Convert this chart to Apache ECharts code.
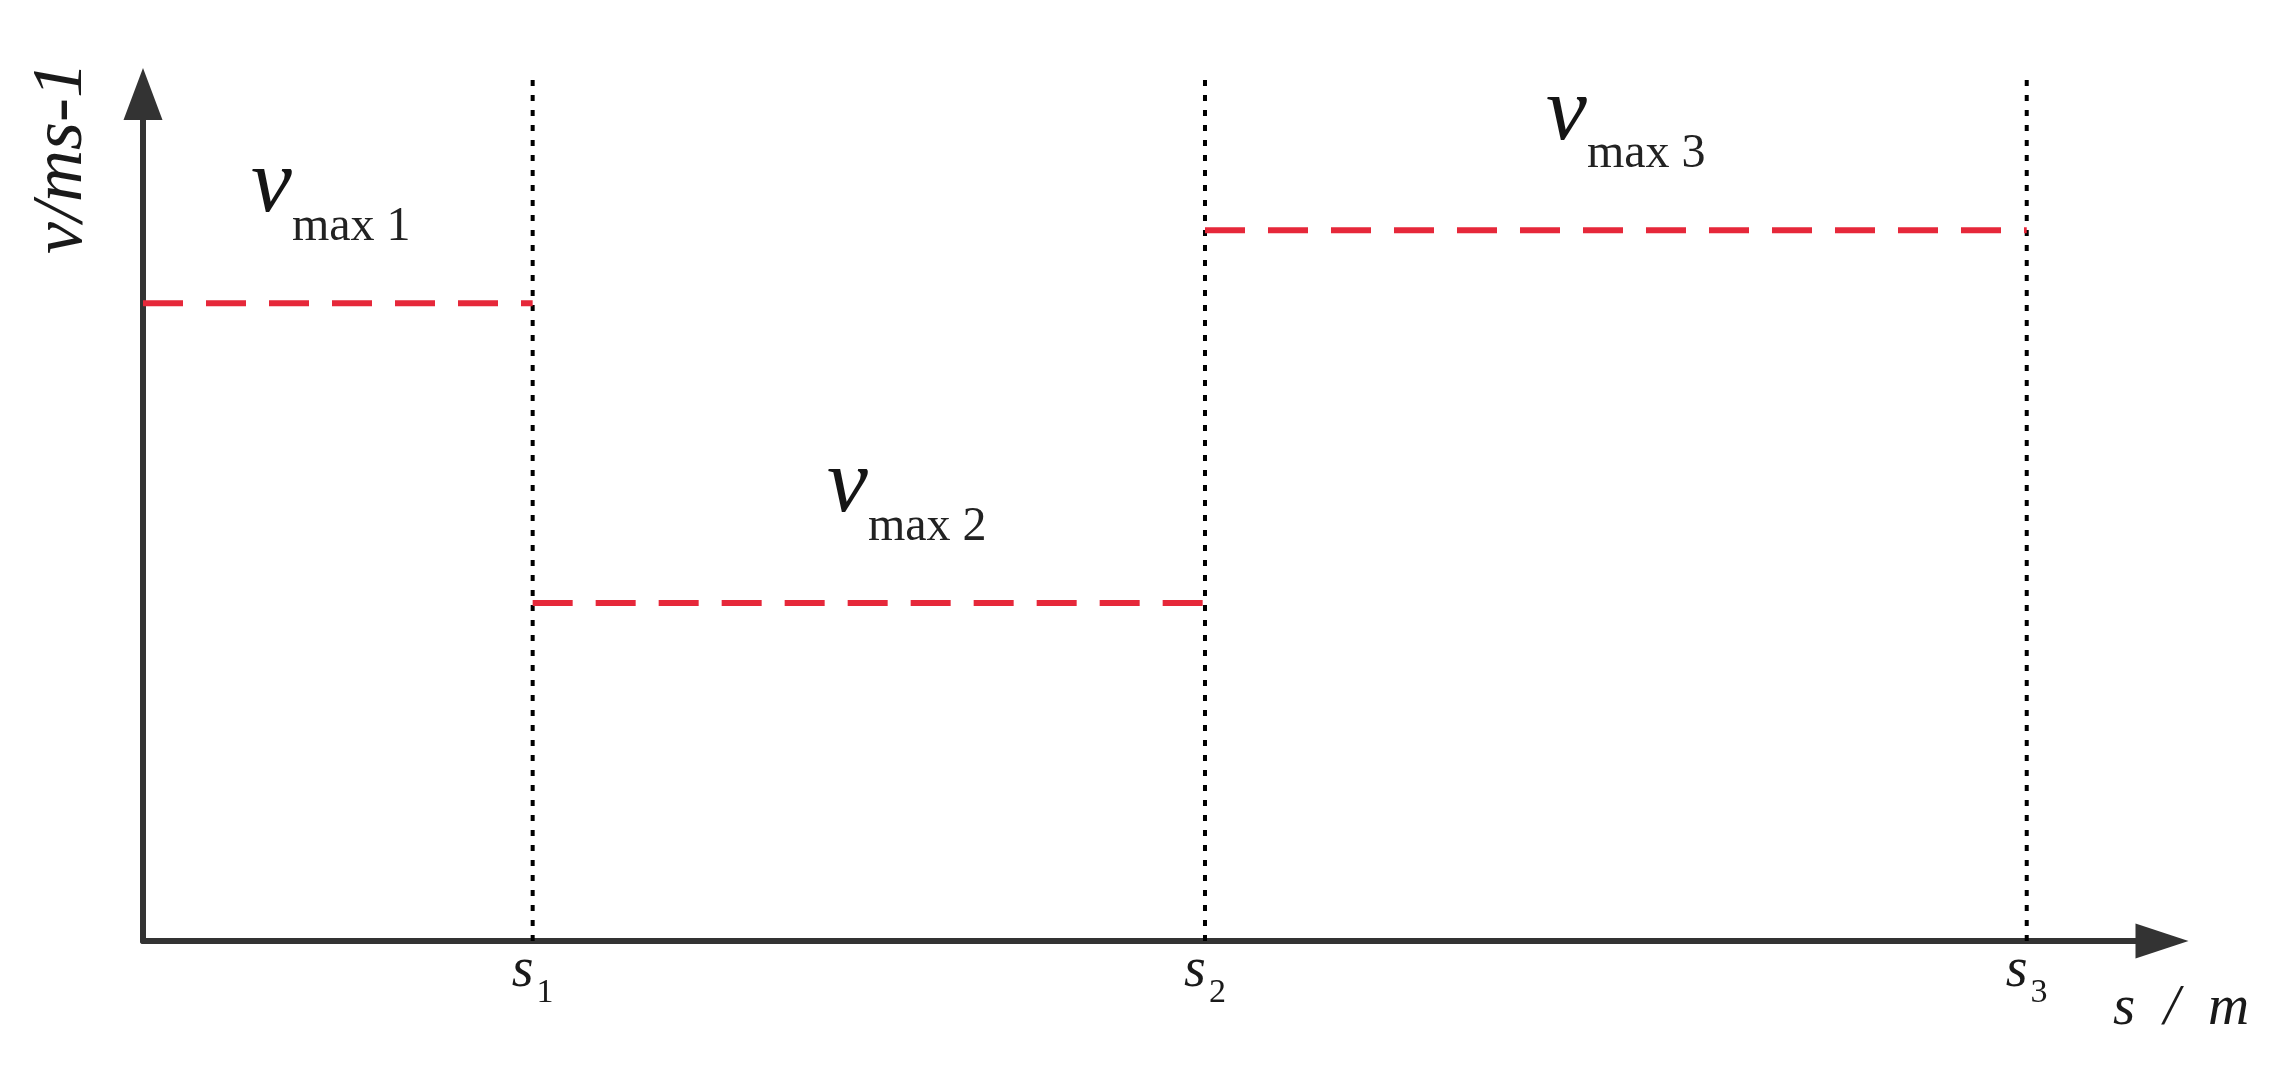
<!DOCTYPE html>
<html>
<head>
<meta charset="utf-8">
<script src="https://cdn.jsdelivr.net/npm/echarts@6/dist/echarts.min.js"></script>
<style>
  html, body { margin: 0; padding: 0; background: #fff; }
  #chart { width: 2276px; height: 1074px; }
</style>
</head>
<body>
<div id="chart"></div>
<script>
  // section boundaries s1..s3 (arbitrary units, axis runs 0..100)
  const sPos = [19.3, 52.6, 93.3]
  const sLabels = ['1', '2', '3']
  // speed limit of each section (axis runs 0..100)
  const segStart = [0, 19.3, 52.6]
  const vMax = [75.3, 39.9, 83.9]
  const vLabels = ['max 1', 'max 2', 'max 3']
  const labelShift = [-7, 38, 10]
  const boundTop = 102

  const serif = 'Liberation Serif'
  const red = '#e6283a'

  const myChart = echarts.init(document.getElementById('chart'))

  const series = []
  vMax.forEach(function (v, i) {
    series.push({
      type: 'line',
      data: [[segStart[i], v], [sPos[i], v]],
      symbol: 'none',
      silent: true,
      z: 3,
      lineStyle: { color: red, width: 6, type: [40, 23] },
      markPoint: {
        symbol: 'circle',
        symbolSize: 0,
        silent: true,
        label: {
          show: true,
          position: 'top',
          distance: 52,
          offset: [labelShift[i], 0],
          formatter: '{v|v}{sub|' + vLabels[i] + '}',
          rich: {
            v: { fontFamily: serif, fontStyle: 'italic', fontSize: 92, color: '#151515', verticalAlign: 'top' },
            sub: { fontFamily: serif, fontSize: 48, color: '#222', verticalAlign: 'top', padding: [62, 0, 0, 0] }
          }
        },
        data: [{ coord: [(segStart[i] + sPos[i]) / 2, v] }]
      }
    })
  })
  sPos.forEach(function (s) {
    series.push({
      type: 'line',
      data: [[s, 0], [s, boundTop]],
      symbol: 'none',
      silent: true,
      clip: false,
      z: 2,
      lineStyle: { color: '#000', width: 4, type: [6, 9] }
    })
  })

  const option = {
    backgroundColor: '#fff',
    animation: false,
    grid: { left: 143, right: 114, top: 94, bottom: 133, outerBoundsMode: 'none' },
    xAxis: {
      type: 'value',
      min: 0,
      max: 100,
      name: 's  /  m',
      nameLocation: 'end',
      nameGap: -49,
      nameTextStyle: {
        fontFamily: serif, fontStyle: 'italic', fontSize: 57, color: '#1a1a1a',
        align: 'left', verticalAlign: 'top', padding: [40, 0, 0, 0]
      },
      splitLine: { show: false },
      axisTick: { show: false },
      axisLine: {
        lineStyle: { color: '#333', width: 6 },
        symbol: ['none', 'triangle'],
        symbolSize: [35, 53]
      },
      axisLabel: {
        customValues: sPos,
        margin: 2,
        formatter: function (value) {
          const i = sPos.indexOf(value)
          return '{s|s}{n|' + sLabels[i] + '}'
        },
        rich: {
          s: { fontFamily: serif, fontStyle: 'italic', fontSize: 56, color: '#1a1a1a', verticalAlign: 'top' },
          n: { fontFamily: serif, fontSize: 34, color: '#1a1a1a', verticalAlign: 'top', padding: [33, 0, 0, 3] }
        }
      }
    },
    yAxis: {
      type: 'value',
      min: 0,
      max: 100,
      name: 'v/ms-1',
      nameLocation: 'end',
      nameRotate: 90,
      nameGap: -64,
      nameTextStyle: {
        fontFamily: serif, fontStyle: 'italic', fontSize: 72, color: '#1a1a1a',
        align: 'center', verticalAlign: 'bottom', padding: [0, 0, 45, 0]
      },
      splitLine: { show: false },
      axisTick: { show: false },
      axisLabel: { show: false },
      axisLine: {
        show: true,
        lineStyle: { color: '#333', width: 6 },
        symbol: ['none', 'triangle'],
        symbolSize: [39, 52]
      }
    },
    series: series
  }
  myChart.setOption(option)
</script>
</body>
</html>
